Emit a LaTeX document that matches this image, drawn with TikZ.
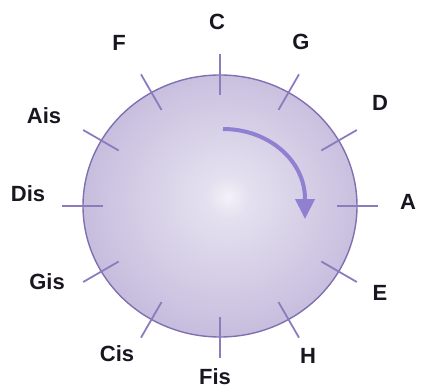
\documentclass[tikz,border=0pt]{standalone}
\usepackage{fontspec}
\setmainfont{Liberation Sans}
\usetikzlibrary{arrows.meta,calc}
\definecolor{hl}{HTML}{F3F1F8}
\definecolor{cA}{HTML}{E4E0EF}
\definecolor{cB}{HTML}{C9C0DF}
\definecolor{cC}{HTML}{A293C8}
\definecolor{rimc}{HTML}{8070B2}
\definecolor{tickc}{HTML}{8C7CBE}
\definecolor{turnc}{HTML}{9080D2}
\definecolor{labc}{HTML}{1A1620}
\pgfdeclareradialshading{ballshade}{\pgfpoint{1.5bp}{1.8bp}}{color(0bp)=(hl); color(4bp)=(cA); color(24bp)=(cB); color(50bp)=(cC)}
\tikzset{
  lab/.style={font=\bfseries\fontsize{22}{22}\selectfont, text=labc, inner sep=0pt},
  tickmark/.style={draw=tickc, line width=1.8pt},
  rim/.style={draw=rimc, line width=1.4pt},
  turn/.style={draw=turnc, line width=4pt, -{Triangle[width=19pt,length=20pt]}}
}
\begin{document}
\begin{tikzpicture}[x=1pt,y=-1pt]
\useasboundingbox (0,0) rectangle (428,390);
\coordinate (O) at (220,206);
\shade[shading=ballshade] (O) ellipse[x radius=137, y radius=131];
\draw[rim] (O) ellipse[x radius=137, y radius=131];
\foreach \a in {0,30,...,330}{
  \coordinate (ti\a) at ($(O)+(\a:117 and 111)$);
  \coordinate (to\a) at ($(O)+(\a:158 and 152)$);
  \draw[tickmark] (ti\a) -- (to\a);
}
\coordinate (as) at (223,129);
\draw[turn] (as) arc[start angle=-90, end angle=0, x radius=82, y radius=70] -- ++(0,20);
\node[lab] (C) at (217,22) {C};
\node[lab] (G) at (301,42) {G};
\node[lab] (D) at (380,103) {D};
\node[lab] (A) at (408,202) {A};
\node[lab] (E) at (380,293) {E};
\node[lab] (H) at (308,356) {H};
\node[lab] (Fis) at (215,377) {Fis};
\node[lab] (Cis) at (117,354) {Cis};
\node[lab] (Gis) at (47,282) {Gis};
\node[lab] (Dis) at (28,194) {Dis};
\node[lab] (Ais) at (44,116) {Ais};
\node[lab] (F) at (119,43) {F};
\end{tikzpicture}
\end{document}
